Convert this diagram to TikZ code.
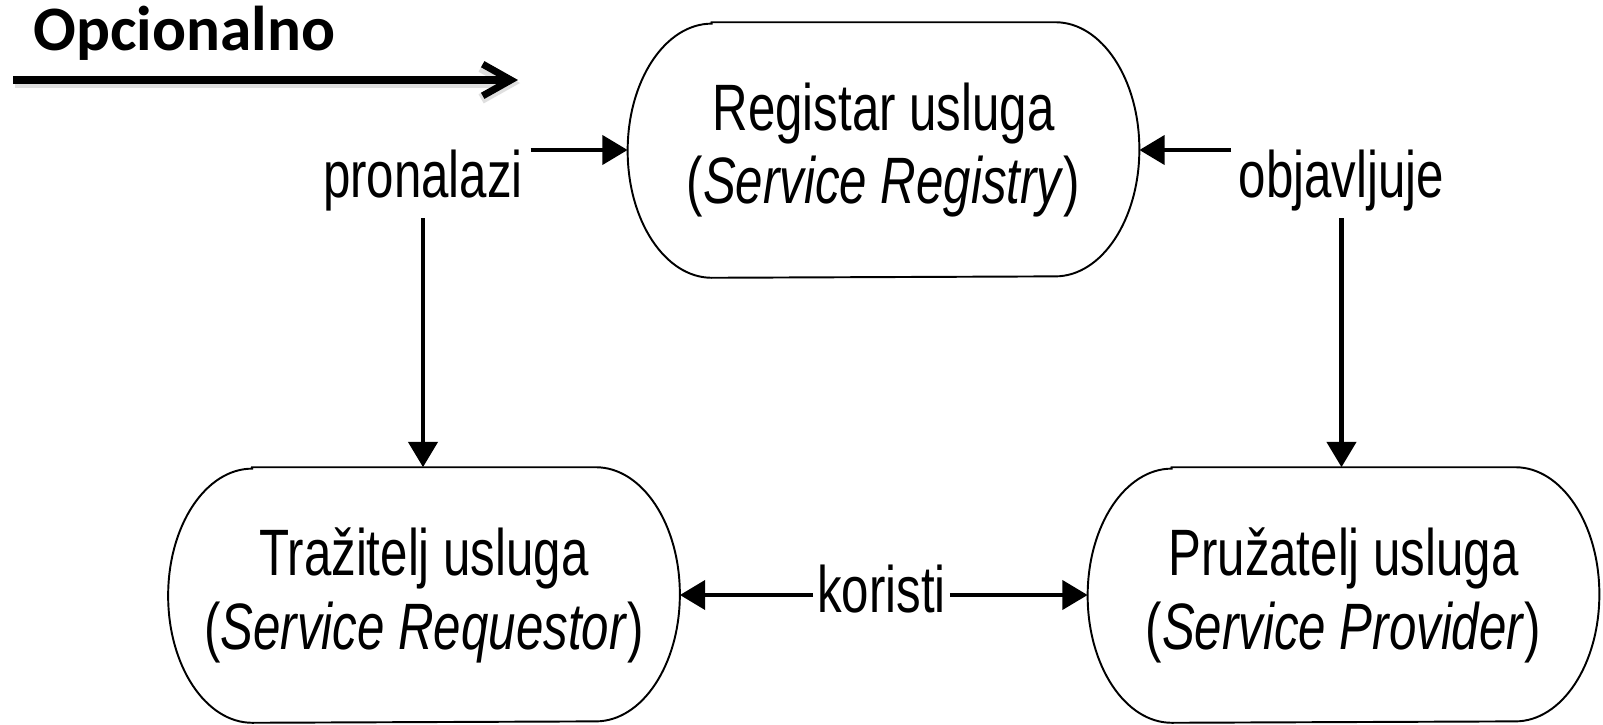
\documentclass[tikz,border=0pt]{standalone}
\usepackage{fontspec}
\newfontfamily\diagfont[FakeStretch=0.75]{Liberation Sans}
\newfontfamily\titlefont{Carlito}
\usetikzlibrary{arrows.meta}

\begin{document}
\begin{tikzpicture}[x=0.01cm, y=-0.01cm,
  txt/.style={font=\diagfont\fontsize{18.66pt}{21pt}\selectfont},
  box/.style={txt, minimum width=5.1cm, minimum height=2.54cm, inner sep=0pt, align=center},
  lbl/.style={txt, inner sep=2pt},
  border/.style={line width=0.55pt},
  link/.style={line width=1.35pt, -{Triangle[length=7.2pt,width=8.2pt]}},
  optarrow/.style={line width=2pt, -{Straight Barb[length=8pt,width=9pt]}},
]
\useasboundingbox (0,0) rectangle (1603,724);

% the three roles
\node[box] (reg)  at (883.5,150) {Registar usluga\\(\textit{Service Registry})};
\node[box] (req)  at (424,595)   {Tražitelj usluga\\(\textit{Service Requestor})};
\node[box] (prov) at (1343.5,595){Pružatelj usluga\\(\textit{Service Provider})};

% rounded outlines with half-elliptic ends
\foreach \n in {reg,req,prov}
  \draw[border] ([xshift=0.84cm]\n.north west) -- ([xshift=-0.84cm]\n.north east)
    arc[start angle=90, end angle=-90, x radius=0.84cm, y radius=1.27cm]
    -- ([xshift=0.84cm]\n.south west)
    arc[start angle=270, end angle=90, x radius=0.84cm, y radius=1.27cm] -- cycle;

% operation labels
\node[lbl, anchor=base] (pron) at (423,197)   {pronalazi};
\node[lbl, anchor=base] (obj)  at (1341.5,197){objavljuje};
\node[lbl, anchor=base, inner xsep=1pt] (kor) at (881.5,612) {koristi};

% connectors
\draw[link] (pron.east |- reg.west) -- (reg.west);
\draw[link] (pron.south) -- (pron.south |- req.north);
\draw[link] (obj.west |- reg.east) -- (reg.east);
\draw[link] (obj.south) -- (obj.south |- prov.north);
\draw[link] (kor.west |- req.east) -- (req.east);
\draw[link] (kor.east |- prov.west) -- (prov.west);

% title with its arrow
\node[anchor=base west, inner sep=0pt, font=\titlefont\bfseries\fontsize{18pt}{21pt}\selectfont] (opc) at (33,50) {Opcionalno};
\coordinate (oa) at (13,80);
\coordinate (ob) at (518,80);
\draw[optarrow, black!25, opacity=0.5, line width=3pt] ([shift={(2,3)}]oa) -- ([shift={(2,3)}]ob);
\draw[optarrow] (oa) -- (ob);
\end{tikzpicture}
\end{document}
